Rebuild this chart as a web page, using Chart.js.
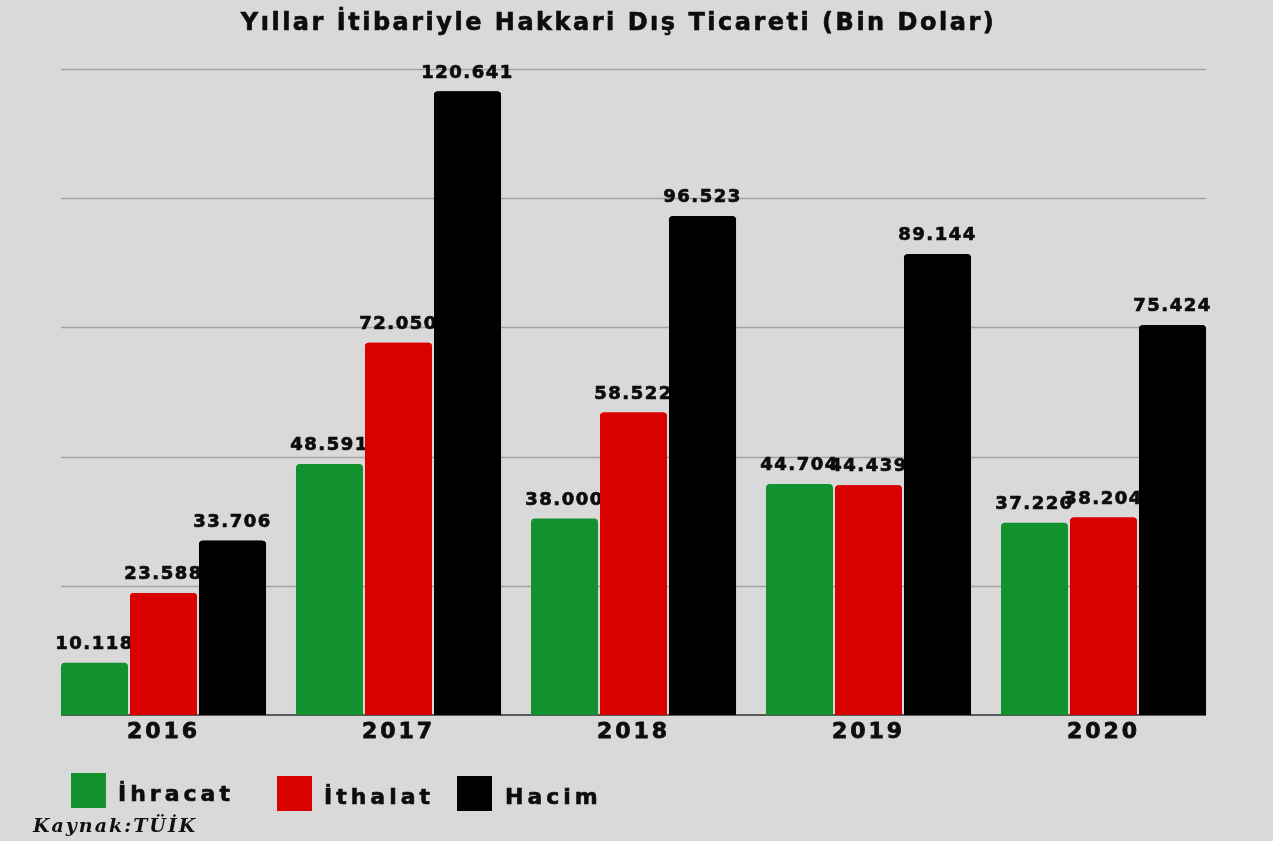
<!DOCTYPE html>
<html><head><meta charset="utf-8">
<script src="https://cdn.jsdelivr.net/npm/chart.js@4.4.1/dist/chart.umd.min.js"></script>
<style>
html,body{margin:0;padding:0;background:#d9d9d9;width:1273px;height:841px;overflow:hidden;}
#wrap{position:relative;width:1273px;height:841px;background:#d9d9d9;}
canvas{position:absolute;left:0;top:0;}
#title{position:absolute;left:0;top:7px;width:1237px;text-align:center;font:bold 24px "DejaVu Sans";letter-spacing:2.5px;color:#0d0d0d;line-height:30px;-webkit-text-stroke:0.6px #0d0d0d;}
.lg{position:absolute;font:bold 22px "DejaVu Sans";letter-spacing:4px;color:#0d0d0d;line-height:26px;-webkit-text-stroke:0.6px #0d0d0d;}
.sw{position:absolute;width:35px;height:35px;}
#src{position:absolute;left:33px;top:814px;font:italic bold 19px "DejaVu Serif";color:#111;letter-spacing:2px;}
</style></head><body>
<div id="wrap">
<canvas id="c" width="1273" height="841"></canvas>
<div id="title">Yıllar İtibariyle Hakkari Dış Ticareti (Bin Dolar)</div>
<div class="sw" style="left:71px;top:773px;background:#12922e"></div>
<div class="lg" style="left:118px;top:781px">İhracat</div>
<div class="sw" style="left:277px;top:776px;background:#d90000"></div>
<div class="lg" style="left:324px;top:784px">İthalat</div>
<div class="sw" style="left:457px;top:776px;background:#000000"></div>
<div class="lg" style="left:505px;top:784px">Hacim</div>
<div id="src">Kaynak:TÜİK</div>
</div>
<script>
const categories = ["2016", "2017", "2018", "2019", "2020"];
const ihracat = [10118, 48591, 38000, 44704, 37220];
const ithalat = [23588, 72050, 58522, 44439, 38204];
const hacim = [33706, 120641, 96523, 89144, 75424];
const seriesNames = ["İhracat", "İthalat", "Hacim"];
const seriesColors = ["#12922e", "#d90000", "#000000"];
const gridValues = [25000, 50000, 75000, 100000, 125000];

function fmt(v){ return String(v).replace(/\B(?=(\d{3})+(?!\d))/g, "."); }

function groupExtent(chart){
  const m0 = chart.getDatasetMeta(0).data[0];
  const metaL = chart.getDatasetMeta(chart.data.datasets.length-1);
  const mL = metaL.data[metaL.data.length-1];
  return [m0.x - m0.width/2, mL.x + mL.width/2];
}

const gridPlugin = {
  id: "gridPlugin",
  beforeDraw(chart){ chart.ctx.letterSpacing = "3px"; },
  beforeDatasetsDraw(chart){
    const ctx = chart.ctx, y = chart.scales.y;
    const [x0, x1] = groupExtent(chart);
    ctx.save();
    ctx.letterSpacing = "0px";
    ctx.strokeStyle = "#a3a3a3";
    ctx.lineWidth = 1.5;
    gridValues.forEach(v => {
      const py = Math.round(y.getPixelForValue(v)) + 0.5;
      ctx.beginPath(); ctx.moveTo(x0, py); ctx.lineTo(x1, py); ctx.stroke();
    });
    ctx.strokeStyle = "#595959";
    ctx.lineWidth = 2;
    const by = y.getPixelForValue(0);
    ctx.beginPath(); ctx.moveTo(x0, by); ctx.lineTo(x1, by); ctx.stroke();
    ctx.restore();
  },
  afterDatasetsDraw(chart){
    const ctx = chart.ctx;
    const n = chart.data.datasets.length;
    for (let i = 0; i < n; i++){
      const meta = chart.getDatasetMeta(i);
      ctx.save();
      ctx.letterSpacing = "1.5px";
      ctx.font = "bold 18px 'DejaVu Sans'";
      ctx.fillStyle = "#0d0d0d";
      ctx.strokeStyle = "#0d0d0d";
      ctx.lineWidth = 0.7;
      ctx.textAlign = "center";
      ctx.textBaseline = "alphabetic";
      meta.data.forEach((bar, k) => {
        const s = fmt(chart.data.datasets[i].data[k]);
        ctx.fillText(s, bar.x, bar.y - 14);
        ctx.strokeText(s, bar.x, bar.y - 14);
      });
      ctx.restore();
      for (let j = i+1; j < n; j++){
        chart.getDatasetMeta(j).data.forEach(b => b.draw(ctx));
      }
    }
  },
  afterDraw(chart){ chart.ctx.letterSpacing = "0px"; }
};

new Chart(document.getElementById("c"), {
  type: "bar",
  data: {
    labels: categories,
    datasets: [
      { label: seriesNames[0], data: ihracat, backgroundColor: seriesColors[0] },
      { label: seriesNames[1], data: ithalat, backgroundColor: seriesColors[1] },
      { label: seriesNames[2], data: hacim, backgroundColor: seriesColors[2] }
    ]
  },
  options: {
    responsive: false,
    animation: false,
    devicePixelRatio: 1,
    layout: { padding: { top: 69, left: 46, right: 52, bottom: 0 } },
    datasets: { bar: { categoryPercentage: 0.881, barPercentage: 0.971, borderRadius: 4, borderSkipped: "start" } },
    plugins: { legend: { display: false }, title: { display: false }, tooltip: { enabled: false } },
    scales: {
      x: {
        grid: { display: false, drawTicks: false },
        border: { display: false },
        ticks: { color: "#0d0d0d", font: { family: "DejaVu Sans", weight: "bold", size: 22 }, padding: 4, textStrokeWidth: 0.8, textStrokeColor: "#0d0d0d" },
        afterFit(s){ s.height = 126; }
      },
      y: { display: false, min: 0, max: 125000 }
    }
  },
  plugins: [gridPlugin]
});
</script>
</body></html>
